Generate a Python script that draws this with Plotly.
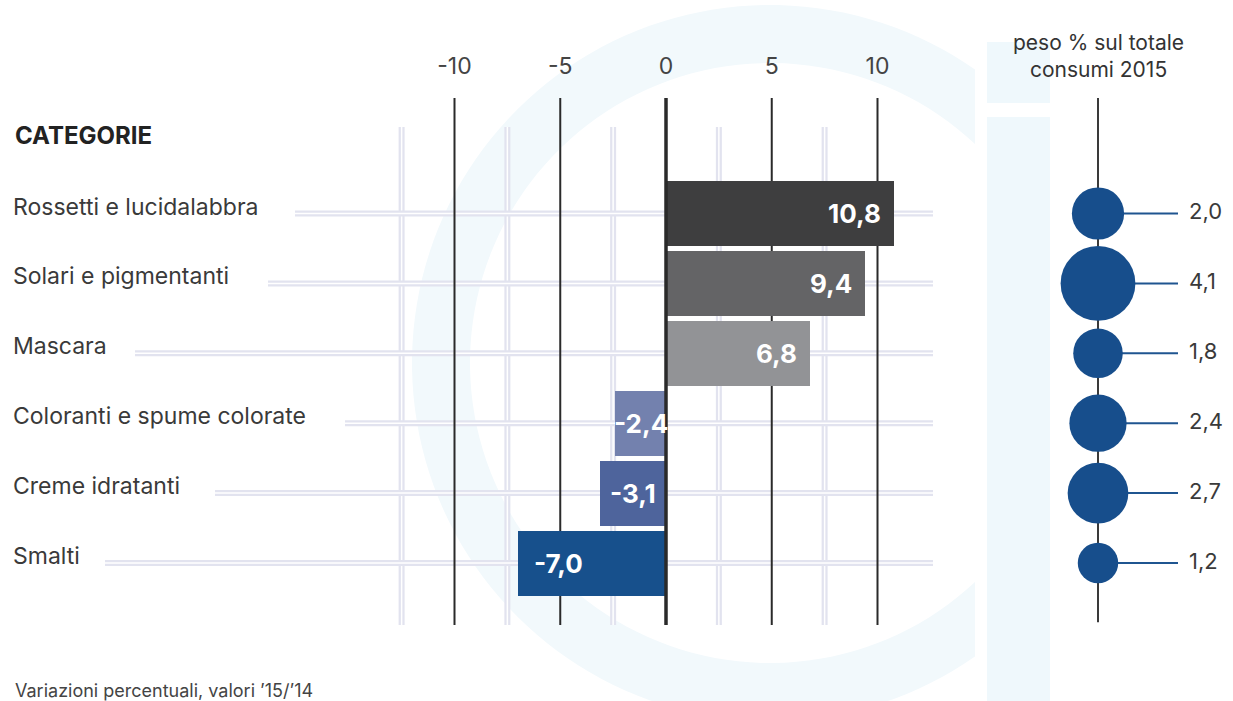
import numpy as np
import plotly.graph_objects as go

# ---------------- data ----------------
categories = ["Rossetti e lucidalabbra", "Solari e pigmentanti", "Mascara",
              "Coloranti e spume colorate", "Creme idratanti", "Smalti"]
variation = [10.8, 9.4, 6.8, -2.4, -3.1, -7.0]          # variazioni % '15/'14
share_2015 = [2.0, 4.1, 1.8, 2.4, 2.7, 1.2]              # peso % sul totale consumi 2015
tick_values = [-10, -5, 0, 5, 10]
tick_labels = ["-10", "-5", "0", "5", "10"]
minor_grid = [-12.5, -7.5, -2.5, 2.5, 7.5]

# ---------------- style ----------------
bar_colors = ["#3e3e3f", "#646466", "#929396", "#7381ae", "#4e649c", "#17508c"]
bubble_color = "#174e8c"
FONT = "Inter"
W, H = 1233, 701
X0_PX, PX_PER_UNIT = 666, 21.15
PLOT_TOP, PLOT_BOT = 98, 625
ROW0, ROW_STEP = 213.5, 69.9
row_line_start_px = [295, 268, 135, 345, 215, 105]   # where the light row rules begin
row_line_end_px = 933


def fmt(v):
    return f"{v:.1f}".replace(".", ",")


x_range = [-X0_PX / PX_PER_UNIT, (W - X0_PX) / PX_PER_UNIT]
y_domain = [1 - PLOT_BOT / H, 1 - PLOT_TOP / H]
y_range = [(PLOT_BOT - ROW0) / ROW_STEP, (PLOT_TOP - ROW0) / ROW_STEP]

fig = go.Figure()

# bars
fig.add_trace(go.Bar(
    x=variation, y=categories, orientation="h",
    marker=dict(color=bar_colors, line=dict(width=0)),
    width=0.93, hoverinfo="skip", showlegend=False,
))

# bubble column
fig.add_trace(go.Scatter(
    x=[1098] * len(share_2015), y=categories, mode="markers",
    marker=dict(size=share_2015, sizemode="area", sizeref=1.9 / 36 ** 2,
                color=bubble_color, line=dict(width=0), opacity=1),
    xaxis="x2", yaxis="y", cliponaxis=False, hoverinfo="skip", showlegend=False,
))
fig.add_trace(go.Scatter(
    x=[1189] * len(share_2015), y=categories, mode="text",
    text=[fmt(v) for v in share_2015], textposition="middle right",
    textfont=dict(family=FONT, size=22, color="#3a3a3a"),
    xaxis="x2", yaxis="y", cliponaxis=False, hoverinfo="skip", showlegend=False,
))

shapes = []
# faint background "C" ring
cx, cy, r_out, r_in, x_cut = 770, 363, 358, 300, 975
a_out = np.degrees(np.arccos((x_cut - cx) / r_out))
a_in = np.degrees(np.arccos((x_cut - cx) / r_in))
th_o = np.radians(np.linspace(a_out, 360 - a_out, 120))
th_i = np.radians(np.linspace(360 - a_in, a_in, 120))
px = np.concatenate([cx + r_out * np.cos(th_o), cx + r_in * np.cos(th_i)])
py = np.concatenate([cy - r_out * np.sin(th_o), cy - r_in * np.sin(th_i)])
path = "M " + " L ".join(f"{x / W:.5f},{1 - y / H:.5f}" for x, y in zip(px, py)) + " Z"
shapes.append(dict(type="path", path=path, xref="paper", yref="paper",
                   fillcolor="#f2f9fc", line=dict(width=0), layer="below"))
for (y0, y1) in [(42, 103), (117, 701)]:
    shapes.append(dict(type="rect", xref="paper", yref="paper",
                       x0=987 / W, x1=1050 / W, y0=1 - y1 / H, y1=1 - y0 / H,
                       fillcolor="#eff8fc", line=dict(width=0), layer="below"))

# light double rules
light_top = (PLOT_BOT - 127) / (PLOT_BOT - PLOT_TOP)
for g in minor_grid:
    shapes.append(dict(type="line", xref="x", yref="y domain", x0=g, x1=g,
                       y0=0, y1=light_top, line=dict(color="#e2e3ef", width=6), layer="below"))
    shapes.append(dict(type="line", xref="x", yref="y domain", x0=g, x1=g,
                       y0=0, y1=light_top, line=dict(color="#ffffff", width=1.5), layer="below"))
for cat, xs in zip(categories, row_line_start_px):
    shapes.append(dict(type="line", xref="paper", yref="y", x0=xs / W, x1=row_line_end_px / W,
                       y0=cat, y1=cat, line=dict(color="#e2e3ef", width=6), layer="below"))
    shapes.append(dict(type="line", xref="paper", yref="y", x0=xs / W, x1=row_line_end_px / W,
                       y0=cat, y1=cat, line=dict(color="#ffffff", width=1.5), layer="below"))

# black value rules
for t in tick_values:
    shapes.append(dict(type="line", xref="x", yref="y domain", x0=t, x1=t, y0=0, y1=1,
                       line=dict(color="#2a2a2a", width=3.5 if t == 0 else 2),
                       layer="above" if t == 0 else "below"))

# bubble column axis and connectors
shapes.append(dict(type="line", xref="x2", yref="y domain", x0=1098, x1=1098, y0=0.005, y1=1,
                   line=dict(color="#3a3a3a", width=2), layer="below"))
for cat in categories:
    shapes.append(dict(type="line", xref="x2", yref="y", x0=1098, x1=1178, y0=cat, y1=cat,
                       line=dict(color="#1f5590", width=2), layer="below"))

annotations = []
for cat, v in zip(categories, variation):
    if v >= 0:
        a = dict(x=v, xanchor="right", xshift=-11)
    elif abs(v) < 5:
        a = dict(x=v / 2, xanchor="center", xshift=0)
    else:
        a = dict(x=v, xanchor="left", xshift=14)
    a.update(y=cat, xref="x", yref="y", text=fmt(v), showarrow=False,
             font=dict(family=FONT, size=26, color="#ffffff", weight="bold"))
    annotations.append(a)

annotations += [
    dict(x=13 / W, y=1 - 135 / H, xref="paper", yref="paper", xanchor="left", yanchor="middle",
         text="<b>CATEGORIE</b>", showarrow=False,
         font=dict(family=FONT, size=24, color="#222222")),
    dict(x=1098 / W, y=1 - 56 / H, xref="paper", yref="paper", xanchor="center", yanchor="middle",
         text="peso % sul totale<br>consumi 2015", showarrow=False,
         font=dict(family=FONT, size=21, color="#333333")),
    dict(x=13 / W, y=1 - 690 / H, xref="paper", yref="paper", xanchor="left", yanchor="middle",
         text="Variazioni percentuali, valori ’15/’14", showarrow=False,
         font=dict(family=FONT, size=18, color="#444444")),
]

fig.update_layout(
    width=W, height=H, margin=dict(l=0, r=0, t=0, b=0),
    paper_bgcolor="#ffffff", plot_bgcolor="rgba(0,0,0,0)",
    showlegend=False, bargap=0,
    xaxis=dict(domain=[0, 1], range=x_range, side="top", tickvals=tick_values, ticktext=tick_labels,
               showgrid=False, zeroline=False, showline=False,
               ticks="outside", ticklen=14, tickcolor="rgba(0,0,0,0)",
               tickfont=dict(family=FONT, size=23, color="#444444"), fixedrange=True),
    xaxis2=dict(domain=[0.8, 1.0], range=[0.8 * W, W], anchor="y", visible=False,
                showgrid=False, zeroline=False),
    yaxis=dict(domain=y_domain, range=y_range, type="category", categoryorder="array",
               categoryarray=categories, showgrid=False, zeroline=False, showline=False,
               ticks="", ticklabelposition="inside", ticklabelstandoff=10, ticklabelshift=7,
               tickfont=dict(family=FONT, size=23, color="#3a3a3a"), fixedrange=True),
    shapes=shapes, annotations=annotations,
)

fig.write_html("out.html")
